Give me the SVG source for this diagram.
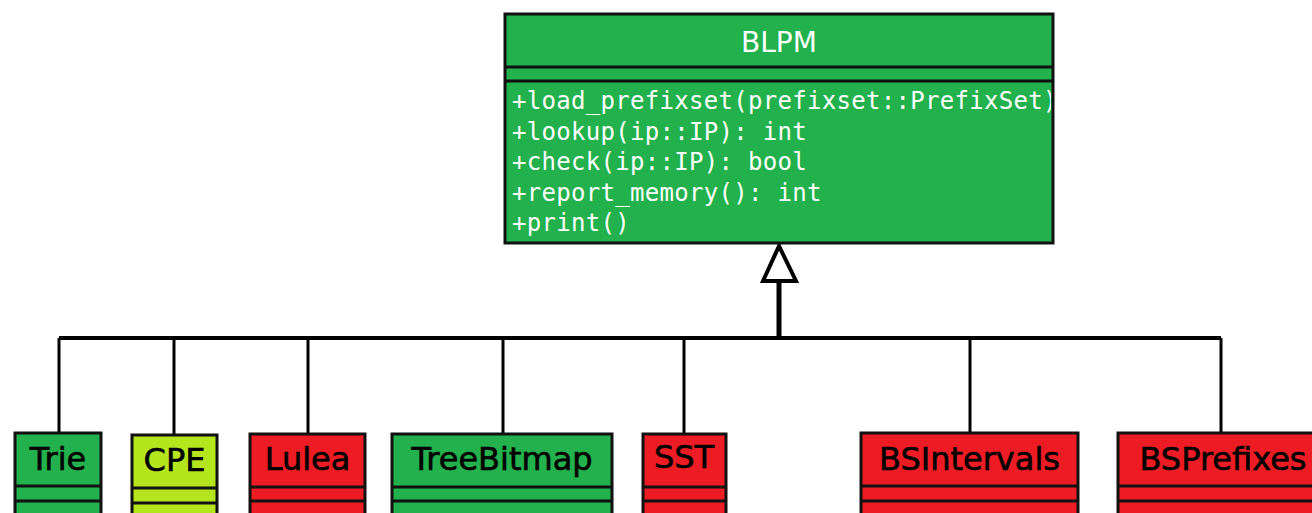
<svg xmlns="http://www.w3.org/2000/svg" width="1312" height="513" viewBox="0 0 1312 513">
<style>
.box{stroke:#111;stroke-width:3}
.div{stroke:#111;stroke-width:3}
.g{fill:#22b14c}
.r{fill:#ed1c24}
.y{fill:#b5e61d}
.lbl{font-family:"DejaVu Sans",sans-serif;font-size:32px;fill:#000;text-anchor:middle;stroke:#000;stroke-width:0.6}
.title{font-family:"DejaVu Sans",sans-serif;font-size:28px;fill:#fff;text-anchor:middle}
.m{font-family:"DejaVu Sans Mono",monospace;font-size:24px;fill:#fff;letter-spacing:0.3px}
.conn{stroke:#000;fill:none}
</style>
<defs>
<clipPath id="bclip"><rect x="506" y="82" width="545" height="160"/></clipPath>
</defs>
<rect width="1312" height="513" fill="#fff"/>
<g id="connectors">
<line class="conn" x1="59" y1="338" x2="1221" y2="338" stroke-width="4"/>
<line class="conn" x1="59" y1="338" x2="59" y2="433" stroke-width="3"/>
<line class="conn" x1="174" y1="338" x2="174" y2="435" stroke-width="3"/>
<line class="conn" x1="308" y1="338" x2="308" y2="434" stroke-width="3"/>
<line class="conn" x1="503" y1="338" x2="503" y2="434" stroke-width="3"/>
<line class="conn" x1="684" y1="338" x2="684" y2="434" stroke-width="3"/>
<line class="conn" x1="970" y1="338" x2="970" y2="433" stroke-width="3"/>
<line class="conn" x1="1221" y1="338" x2="1221" y2="433" stroke-width="3"/>
<line class="conn" x1="779" y1="281" x2="779" y2="340" stroke-width="5"/>
<polygon points="779,246 763,281 796,281" fill="#fff" stroke="#000" stroke-width="4" stroke-linejoin="miter"/>
</g>
<g id="BLPM">
<rect class="box g" x="505" y="14" width="548" height="229"/>
<line class="div" x1="505" y1="67" x2="1053" y2="67"/>
<line class="div" x1="505" y1="81" x2="1053" y2="81"/>
<text class="title" x="779" y="52">BLPM</text>
<g clip-path="url(#bclip)">
<text class="m" x="512" y="109">+load_prefixset(prefixset::PrefixSet)</text>
<text class="m" x="512" y="140">+lookup(ip::IP): int</text>
<text class="m" x="512" y="170">+check(ip::IP): bool</text>
<text class="m" x="512" y="201">+report_memory(): int</text>
<text class="m" x="512" y="231">+print()</text>
</g>
</g>
<g id="Trie">
<rect class="box g" x="15" y="433" width="86" height="90"/>
<line class="div" x1="15" y1="486" x2="101" y2="486"/>
<line class="div" x1="15" y1="501" x2="101" y2="501"/>
<text class="lbl" x="58" y="470">Trie</text>
</g>
<g id="CPE">
<rect class="box y" x="132" y="435" width="85" height="90"/>
<line class="div" x1="132" y1="488" x2="217" y2="488"/>
<line class="div" x1="132" y1="503" x2="217" y2="503"/>
<text class="lbl" x="174.5" y="471">CPE</text>
</g>
<g id="Lulea">
<rect class="box r" x="250" y="434" width="115" height="90"/>
<line class="div" x1="250" y1="487" x2="365" y2="487"/>
<line class="div" x1="250" y1="501" x2="365" y2="501"/>
<text class="lbl" x="307.5" y="470">Lulea</text>
</g>
<g id="TreeBitmap">
<rect class="box g" x="392" y="434" width="220" height="90"/>
<line class="div" x1="392" y1="487" x2="612" y2="487"/>
<line class="div" x1="392" y1="501" x2="612" y2="501"/>
<text class="lbl" x="502" y="470">TreeBitmap</text>
</g>
<g id="SST">
<rect class="box r" x="643" y="434" width="83" height="90"/>
<line class="div" x1="643" y1="487" x2="726" y2="487"/>
<line class="div" x1="643" y1="501" x2="726" y2="501"/>
<text class="lbl" x="684" y="468">SST</text>
</g>
<g id="BSIntervals">
<rect class="box r" x="861" y="433" width="217" height="90"/>
<line class="div" x1="861" y1="486" x2="1078" y2="486"/>
<line class="div" x1="861" y1="501" x2="1078" y2="501"/>
<text class="lbl" x="969.5" y="470">BSIntervals</text>
</g>
<g id="BSPrefixes">
<rect class="box r" x="1118" y="433" width="210" height="90"/>
<line class="div" x1="1118" y1="486" x2="1328" y2="486"/>
<line class="div" x1="1118" y1="501" x2="1328" y2="501"/>
<text class="lbl" x="1223" y="470">BSPrefixes</text>
</g>
</svg>
